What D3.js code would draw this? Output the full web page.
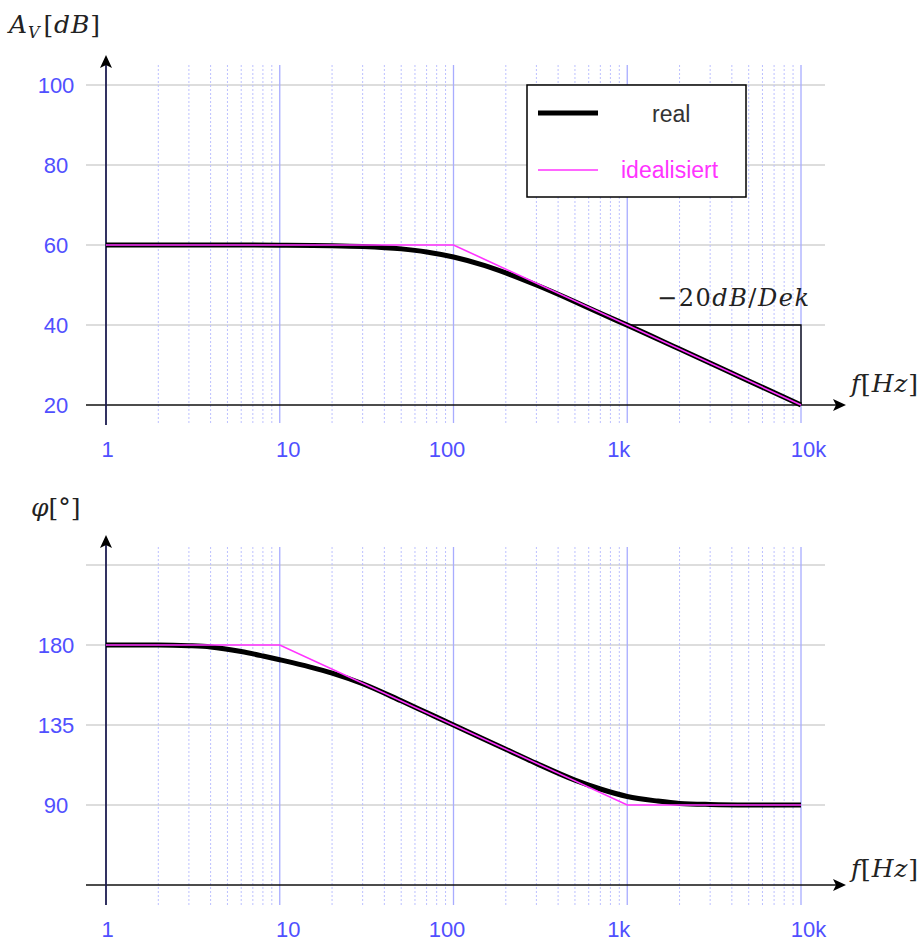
<!DOCTYPE html>
<html><head><meta charset="utf-8">
<script src="https://cdn.jsdelivr.net/npm/d3@7"></script>
<style>body{margin:0;background:#fff}svg{display:block}</style>
</head><body>
<svg id="c" width="920" height="942"></svg>
<script>
// ---- data ----
const freqTicks = [1, 10, 100, 1000, 10000];
const freqTickLabels = ["1", "10", "100", "1k", "10k"];
const gainTicks = [20, 40, 60, 80, 100];
const gainTickLabels = ["20", "40", "60", "80", "100"];
const phaseGrid = [90, 135, 180, 225];
const phaseTicks = [90, 135, 180];
const phaseTickLabels = ["90", "135", "180"];

const gainRealFreq = [1, 2, 5, 10, 20, 30, 50, 70, 100, 150, 200, 300, 500, 700, 1000, 2000, 5000, 10000];
const gainReal     = [60, 60, 60, 59.96, 59.83, 59.62, 59.03, 58.26, 56.99, 54.89, 53.01, 50.0, 45.83, 42.93, 39.96, 33.98, 26.02, 20.0];
const gainIdealFreq = [1, 100, 10000];
const gainIdeal     = [60, 60, 20];

const phaseRealFreq = [1, 2, 3, 4, 6, 8, 10, 15, 20, 30, 50, 70, 100, 150, 200, 300, 500, 700, 1000, 1500, 2000, 3000, 5000, 10000];
const phaseReal     = [180, 180, 179.6, 178.9, 176.3, 173.8, 171.7, 167.6, 164.2, 158.2, 148.6, 142, 135, 127, 121.4, 113.4, 104, 99, 94.8, 92.2, 90.9, 90.3, 90.05, 90];
const phaseIdealFreq = [1, 10, 1000, 10000];
const phaseIdeal     = [180, 180, 90, 90];

const legendLabels = ["real", "idealisiert"];

// ---- drawing ----
const svg = d3.select("#c");
const x = d3.scaleLog().domain([1, 10000]).range([106, 801]);
const yG = d3.scaleLinear().domain([20, 100]).range([405, 85]);
const yP = d3.scaleLinear().domain([45, 180]).range([885, 645]);

const minorFreqs = [];
[1, 10, 100, 1000].forEach(d => { for (let k = 2; k <= 9; k++) minorFreqs.push(d * k); });

const tickBlue = "#5050ff";
const magenta = "#ff33ff";
const sans = "Liberation Sans, Arial, sans-serif";
const labelDx = [1, 8, -7, -9, 7];

function arrowHead(g, tx, ty, dir) {
  let p;
  if (dir === "right") p = `M${tx},${ty} L${tx-13},${ty-6} L${tx-10},${ty} L${tx-13},${ty+6} Z`;
  else p = `M${tx},${ty} L${tx-6},${ty+13} L${tx},${ty+10} L${tx+6},${ty+13} Z`;
  g.append("path").attr("d", p).attr("fill", "#000");
}

function panel(y, hGrid, vTop, vBot, axisY, yAxisTop, yAxisBottom, labelBase) {
  const g = svg.append("g");
  g.selectAll(".hg").data(hGrid).join("line")
    .attr("x1", 86).attr("x2", 825)
    .attr("y1", d => y(d)).attr("y2", d => y(d))
    .attr("stroke", "#d2d2d2").attr("stroke-width", 1.3);
  g.selectAll(".mg").data(minorFreqs).join("line")
    .attr("x1", d => x(d)).attr("x2", d => x(d))
    .attr("y1", vTop).attr("y2", vBot)
    .attr("stroke", "#bcc0ff").attr("stroke-width", 1).attr("stroke-dasharray", "2,2");
  g.selectAll(".dg").data(freqTicks.slice(1)).join("line")
    .attr("x1", d => x(d)).attr("x2", d => x(d))
    .attr("y1", vTop).attr("y2", vBot)
    .attr("stroke", "#a8acff").attr("stroke-width", 1.3);
  g.append("line").attr("x1", 86).attr("x2", 840).attr("y1", axisY).attr("y2", axisY)
    .attr("stroke", "#111").attr("stroke-width", 1.6);
  arrowHead(g, 846, axisY, "right");
  g.append("line").attr("x1", 106).attr("x2", 106).attr("y1", yAxisBottom).attr("y2", yAxisTop + 5)
    .attr("stroke", "#1c1c50").attr("stroke-width", 1.8);
  arrowHead(g, 106, yAxisTop, "up");
  const ax = d3.axisBottom(x).tickValues(freqTicks).tickFormat((d, i) => freqTickLabels[i]).tickSize(0).tickPadding(0);
  const axg = g.append("g").attr("transform", `translate(0,${labelBase})`).call(ax);
  axg.select(".domain").remove();
  axg.selectAll("text").attr("fill", tickBlue).attr("font-family", sans)
    .attr("font-size", 22).attr("dy", 0).attr("dx", (d, i) => labelDx[i]);
  return g;
}

function yLabels(y, ticks, labels) {
  const ay = d3.axisLeft(y).tickValues(ticks).tickFormat((d, i) => labels[i]).tickSize(0).tickPadding(0);
  const g = svg.append("g").attr("transform", "translate(56,0)").call(ay);
  g.select(".domain").remove();
  g.selectAll("text").attr("fill", tickBlue).attr("font-family", sans).attr("font-size", 22)
    .attr("text-anchor", "middle").attr("dy", "0.36em");
}

function curve(g, y, fx, vals, color, width) {
  const pts = fx.map((f, i) => [x(f), y(vals[i])]);
  g.append("path").attr("d", d3.line().curve(d3.curveMonotoneX)(pts))
    .attr("fill", "none").attr("stroke", color).attr("stroke-width", width)
    .attr("stroke-linejoin", "round");
}
function poly(g, y, fx, vals, color, width) {
  const pts = fx.map((f, i) => [x(f), y(vals[i])]);
  g.append("path").attr("d", d3.line()(pts))
    .attr("fill", "none").attr("stroke", color).attr("stroke-width", width);
}

// ---- top panel ----
const gTop = panel(yG, gainTicks.slice(1), 65, 423, yG(20), 55, 425, 457);
yLabels(yG, gainTicks, gainTickLabels);

gTop.append("path")
  .attr("d", `M${x(1000)},${yG(40)} L${x(10000)},${yG(40)} L${x(10000)},${yG(20)}`)
  .attr("fill", "none").attr("stroke", "#000").attr("stroke-width", 1.3);

curve(gTop, yG, gainRealFreq, gainReal, "#000", 5);
poly(gTop, yG, gainIdealFreq, gainIdeal, magenta, 1.6);

// legend
const lg = svg.append("g");
lg.append("rect").attr("x", 527).attr("y", 85).attr("width", 219).attr("height", 112)
  .attr("fill", "#fff").attr("stroke", "#000").attr("stroke-width", 1.5);
lg.append("line").attr("x1", 538).attr("x2", 598).attr("y1", 113).attr("y2", 113).attr("stroke", "#000").attr("stroke-width", 5);
lg.append("text").attr("x", 652).attr("y", 122).text(legendLabels[0])
  .attr("fill", "#333").attr("font-family", sans).attr("font-size", 23);
lg.append("line").attr("x1", 538).attr("x2", 598).attr("y1", 170).attr("y2", 170).attr("stroke", magenta).attr("stroke-width", 1.6);
lg.append("text").attr("x", 621).attr("y", 178).text(legendLabels[1])
  .attr("fill", magenta).attr("font-family", sans).attr("font-size", 23);

// ---- bottom panel ----
const gBot = panel(yP, phaseGrid, 547, 905, yP(45), 535, 905, 937);
yLabels(yP, phaseTicks, phaseTickLabels);

curve(gBot, yP, phaseRealFreq, phaseReal, "#000", 5);
poly(gBot, yP, phaseIdealFreq, phaseIdeal, magenta, 1.6);

// ---- math labels ----
const serif = "DejaVu Serif, Liberation Serif, serif";
function mathText(xp, yp, size, len) {
  const t = svg.append("text").attr("x", xp).attr("y", yp).attr("font-family", serif).attr("font-size", size).attr("fill", "#222");
  if (len) t.attr("textLength", len).attr("lengthAdjust", "spacing");
  return t;
}
let t = mathText(9, 33, 25, 91);
t.append("tspan").attr("font-style", "italic").text("A");
t.append("tspan").attr("font-style", "italic").attr("font-size", 16).attr("dy", 5).text("V");
t.append("tspan").attr("dy", -5).attr("dx", 3).text("[");
t.append("tspan").attr("font-style", "italic").text("dB");
t.append("tspan").text("]");

t = mathText(31, 516, 25);
t.append("tspan").attr("font-style", "italic").text("φ");
t.append("tspan").text("[°]");

[392, 877].forEach(yy => {
  const tt = mathText(851, yy, 25, 67);
  tt.append("tspan").attr("font-style", "italic").text("f");
  tt.append("tspan").text("[");
  tt.append("tspan").attr("font-style", "italic").text("Hz");
  tt.append("tspan").text("]");
});

t = mathText(657, 306, 24, 152);
t.append("tspan").text("−20");
t.append("tspan").attr("font-style", "italic").text("dB");
t.append("tspan").text("/");
t.append("tspan").attr("font-style", "italic").text("Dek");
</script>
</body></html>
